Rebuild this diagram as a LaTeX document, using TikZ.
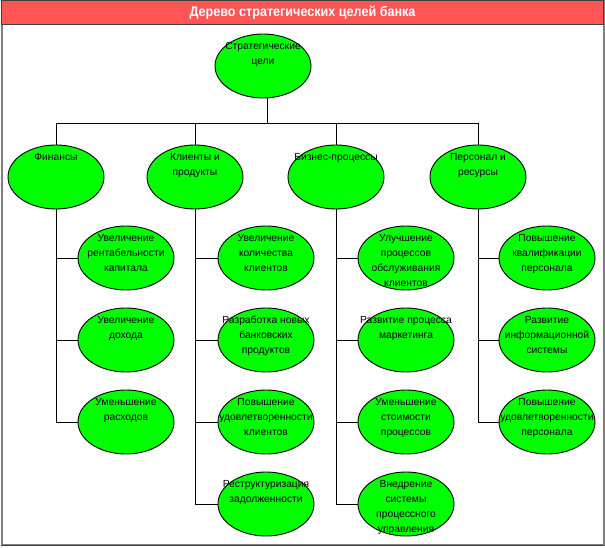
\documentclass[tikz,border=0pt]{standalone}
\usepackage{fontspec}
\setmainfont{Liberation Sans}
\usetikzlibrary{shapes.geometric}
\definecolor{goalgreen}{HTML}{00FF00}
\definecolor{titlered}{HTML}{FF5555}
\definecolor{framegray}{HTML}{808080}
\tikzset{
  goal/.style={ellipse, draw=black, line width=0.9pt, fill=goalgreen, minimum width=96pt, minimum height=64pt, inner sep=0pt},
  gtext/.style={anchor=north, yshift=-8.5pt, align=center, inner sep=0pt, font=\fontsize{10.3}{15}\selectfont},
  link/.style={draw=black, line width=0.9pt}
}
\begin{document}
\begin{tikzpicture}[x=1pt, y=-1pt]
\useasboundingbox (0,0) rectangle (605,548);
% frame
\draw[framegray, line width=2pt] (2,1) rectangle (603.5,545);
\draw[black!75, line width=1pt] (1,545.5) -- (604,545.5);
% title bar
\node[draw=black!75, line width=1pt, fill=titlered, minimum width=602pt, minimum height=24pt, inner sep=0pt] (titlebar) at (302.5,13) {};
\node[text=white, font=\fontsize{14}{16}\selectfont\bfseries] (title) at (titlebar.center) {\scalebox{0.9}[1]{Дерево стратегических целей банка}};

% root
\node[goal] (root) at (263,66) {};
\node[gtext] (roott) at (root.north) {Стратегические\\цели};
\coordinate (bus) at (267,123);

% level 1
\node[goal] (f1) at (56,177) {};
\node[gtext] (f1t) at (f1.north) {Финансы};
\node[goal] (f2) at (195,177) {};
\node[gtext] (f2t) at (f2.north) {Клиенты и\\продукты};
\node[goal] (f3) at (336,177) {};
\node[gtext] (f3t) at (f3.north) {Бизнес-процессы};
\node[goal] (f4) at (478,177) {};
\node[gtext] (f4t) at (f4.north) {Персонал и\\ресурсы};

% column 1
\node[goal] (a1) at (126,258) {};
\node[gtext] (a1t) at (a1.north) {Увеличение\\рентабельности\\капитала};
\node[goal] (a2) at (126,340) {};
\node[gtext] (a2t) at (a2.north) {Увеличение\\дохода};
\node[goal] (a3) at (126,422) {};
\node[gtext] (a3t) at (a3.north) {Уменьшение\\расходов};

% column 2
\node[goal] (b1) at (266,258) {};
\node[gtext] (b1t) at (b1.north) {Увеличение\\количества\\клиентов};
\node[goal] (b2) at (266,340) {};
\node[gtext] (b2t) at (b2.north) {Разработка новых\\банковских\\продуктов};
\node[goal] (b3) at (266,422) {};
\node[gtext] (b3t) at (b3.north) {Повышение\\удовлетворенности\\клиентов};
\node[goal] (b4) at (266,504) {};
\node[gtext] (b4t) at (b4.north) {Реструктуризация\\задолженности};

% column 3
\node[goal] (c1) at (406,258) {};
\node[gtext] (c1t) at (c1.north) {Улучшение\\процессов\\обслуживания\\клиентов};
\node[goal] (c2) at (406,340) {};
\node[gtext] (c2t) at (c2.north) {Развитие процесса\\маркетинга};
\node[goal] (c3) at (406,422) {};
\node[gtext] (c3t) at (c3.north) {Уменьшение\\стоимости\\процессов};
\node[goal] (c4) at (406,504) {};
\node[gtext] (c4t) at (c4.north) {Внедрение\\системы\\процессного\\управления};

% column 4
\node[goal] (d1) at (547,258) {};
\node[gtext] (d1t) at (d1.north) {Повышение\\квалификации\\персонала};
\node[goal] (d2) at (547,340) {};
\node[gtext] (d2t) at (d2.north) {Развитие\\информационной\\системы};
\node[goal] (d3) at (547,422) {};
\node[gtext] (d3t) at (d3.north) {Повышение\\удовлетворенности\\персонала};

% connectors
\draw[link] (root.south -| bus) -- (bus);
\draw[link] (f1.north |- bus) -- (f4.north |- bus);
\foreach \n in {f1,f2,f3,f4} { \draw[link] (\n.north |- bus) -- (\n.north); }
\foreach \c in {a1,a2,a3} { \draw[link] (f1.south) |- (\c.west); }
\foreach \c in {b1,b2,b3,b4} { \draw[link] (f2.south) |- (\c.west); }
\foreach \c in {c1,c2,c3,c4} { \draw[link] (f3.south) |- (\c.west); }
\foreach \c in {d1,d2,d3} { \draw[link] (f4.south) |- (\c.west); }
\end{tikzpicture}
\end{document}
